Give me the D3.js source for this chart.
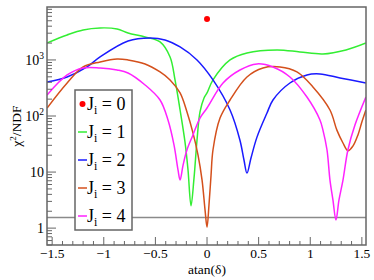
<!DOCTYPE html>
<html><head><meta charset="utf-8">
<script src="https://cdn.jsdelivr.net/npm/d3@7"></script>
<style>
html,body{margin:0;padding:0;background:#fff;}
svg{display:block;font-family:"Liberation Serif","Times New Roman",serif;}
</style></head>
<body><svg id="c" width="374" height="280"></svg>
<script>
// ---- data (atan(delta), chi2/NDF) ----
const seriesNames = ["J_i = 0","J_i = 1","J_i = 2","J_i = 3","J_i = 4"];
const seriesColors = ["#ff0000","#33ee33","#1a1aff","#d4501c","#ff22ff"];
const j0Points = [[0, 5400]];
const j1X = [-1.549,-1.355,-1.200,-1.036,-0.871,-0.765,-0.600,-0.455,-0.358,-0.310,-0.261,-0.213,-0.184,-0.155,-0.126,-0.097,-0.068,-0.029,0,0.058,0.223,0.387,0.678,0.900,1.123,1.346,1.539];
const j1Y = [2014,2795,3434,3724,3577,3034,2576,2096,1132,440,128,34,10.9,2.5,7.8,37,118,210,258,440,1000,1334,1510,1390,1280,1510,2014];
const j2X = [-1.549,-1.355,-1.162,-1.036,-0.765,-0.552,-0.407,-0.261,-0.097,0.058,0.223,0.319,0.358,0.387,0.426,0.484,0.581,0.639,0.803,0.968,1.094,1.288,1.539];
const j2Y = [405,497,750,1132,2183,2471,2276,1706,1000,440,128,37,16.4,9.6,17.8,42,113,193,388,540,562,478,388];
const j3X = [-1.549,-1.355,-1.200,-1.036,-0.871,-0.765,-0.600,-0.455,-0.358,-0.261,-0.194,-0.136,-0.087,-0.048,-0.019,0,0.019,0.039,0.058,0.126,0.223,0.387,0.542,0.707,0.871,1.026,1.191,1.258,1.317,1.365,1.413,1.462,1.500,1.539];
const j3Y = [139,388,750,920,1042,1000,849,611,440,258,118,50,20.1,7.2,2.1,1.04,2.58,8.8,25,92,193,497,719,750,611,330,128,56,33,24,29,46,78,128];
const j4X = [-1.549,-1.355,-1.200,-1.036,-0.871,-0.765,-0.600,-0.455,-0.378,-0.319,-0.281,-0.261,-0.232,-0.194,-0.136,-0.068,0,0.155,0.319,0.484,0.639,0.803,0.968,1.094,1.123,1.162,1.191,1.220,1.249,1.278,1.317,1.365,1.433,1.539];
const j4Y = [237,540,719,719,662,586,358,193,85,30,10.9,7.2,13.3,25,46,92,139,388,662,849,750,497,218,85,56,25,7.2,3.16,1.39,3.16,7.2,25,69,218];
const refLevel = 1.55;
const xTickValues = [-1.5,-1,-0.5,0,0.5,1,1.5];
const xTickLabels = ["\u22121.5","\u22121","\u22120.5","0","0.5","1","1.5"];
const yMajorValues = [1,10,100,1000];
const yMajorBase = ["1","10","10","10"];
const yMajorSup = ["","","2","3"];
const xTitle = "atan(\u03b4)";

// ---- layout ----
const L = 47, R = 366, T = 7, B = 245;
const x = d3.scaleLinear().domain([-1.55, 1.54]).range([L, R]);
const y = d3.scaleLog().domain([0.5, 8800]).range([B, T]);
const svg = d3.select("#c");
const axisCol = "#666";

svg.append("defs").append("clipPath").attr("id","clip")
  .append("rect").attr("x",L).attr("y",T).attr("width",R-L).attr("height",B-T);

// reference line
svg.append("line").attr("x1",L).attr("x2",R).attr("y1",y(refLevel)).attr("y2",y(refLevel))
  .attr("stroke","#8a8a8a").attr("stroke-width",1.6);

// curves
const line = d3.line().x(d=>x(d[0])).y(d=>y(d[1])).curve(d3.curveCatmullRom.alpha(0.5));
const curves = [[j1X,j1Y],[j2X,j2Y],[j3X,j3Y],[j4X,j4Y]];
const g = svg.append("g").attr("clip-path","url(#clip)");
curves.forEach((c,i)=>{
  const pts = c[0].map((v,k)=>[v,c[1][k]]);
  g.append("path").attr("d",line(pts)).attr("fill","none")
    .attr("stroke",seriesColors[i+1]).attr("stroke-width",1.5);
});
g.selectAll("circle.j0").data(j0Points).enter().append("circle")
  .attr("cx",d=>x(d[0])).attr("cy",d=>y(d[1])).attr("r",3).attr("fill",seriesColors[0]);

// frame
svg.append("rect").attr("x",L).attr("y",T).attr("width",R-L).attr("height",B-T)
  .attr("fill","none").attr("stroke",axisCol).attr("stroke-width",1.5);

// x ticks
const xMinor = d3.range(-15,16).map(k=>k/10);
svg.append("g").selectAll("line").data(xMinor).enter().append("line")
  .attr("x1",d=>x(d)).attr("x2",d=>x(d))
  .attr("y1",B).attr("y2",d=>B-(Math.abs(d*2-Math.round(d*2))<1e-6?8:4))
  .attr("stroke",axisCol).attr("stroke-width",1);
svg.append("g").selectAll("text").data(xTickValues).enter().append("text")
  .attr("x",d=>x(d)).attr("y",258).attr("text-anchor","middle")
  .attr("font-size",13.5).text((d,i)=>xTickLabels[i]);

// y ticks
const yMinor = [];
[-1,0,1,2,3].forEach(e=>{ for(let m=1;m<10;m++){ const v=m*Math.pow(10,e); if(v>=0.5 && v<=8800) yMinor.push({v:v,major:m===1}); } });
svg.append("g").selectAll("line").data(yMinor).enter().append("line")
  .attr("x1",L).attr("x2",d=>L+(d.major?9:5))
  .attr("y1",d=>y(d.v)).attr("y2",d=>y(d.v))
  .attr("stroke",axisCol).attr("stroke-width",1);
const yl = svg.append("g").selectAll("text").data(yMajorValues).enter().append("text")
  .attr("x",44).attr("y",d=>y(d)+5).attr("text-anchor","end").attr("font-size",14);
yl.each(function(d,i){
  const t=d3.select(this);
  t.append("tspan").text(yMajorBase[i]);
  if(yMajorSup[i]) t.append("tspan").attr("dy",-6).attr("font-size",9.5).text(yMajorSup[i]);
});

// axis titles
svg.append("text").attr("x",207).attr("y",274).attr("text-anchor","middle")
  .attr("font-size",13.5).text(xTitle);
const yt = svg.append("text").attr("transform","translate(21,126) rotate(-90)")
  .attr("text-anchor","middle").attr("font-size",13.5);
yt.append("tspan").text("\u03c7");
yt.append("tspan").attr("dy",-5).attr("font-size",9).text("2");
yt.append("tspan").attr("dy",5).text("/NDF");

// legend
const lg = svg.append("g");
lg.append("rect").attr("x",75).attr("y",90).attr("width",57).attr("height",140)
  .attr("fill","#fff").attr("stroke",axisCol).attr("stroke-width",1.5);
seriesNames.forEach((n,i)=>{
  const cy = 104 + i*28;
  if(i===0){
    lg.append("circle").attr("cx",82.5).attr("cy",cy).attr("r",3).attr("fill",seriesColors[0]);
  } else {
    lg.append("line").attr("x1",78).attr("x2",87).attr("y1",cy).attr("y2",cy)
      .attr("stroke",seriesColors[i]).attr("stroke-width",1.5);
  }
  const parts = n.split(" = ");
  const t = lg.append("text").attr("x",87).attr("y",cy+6).attr("font-size",18);
  t.append("tspan").text(parts[0].split("_")[0]);
  t.append("tspan").attr("dy",4).attr("font-size",12).text(parts[0].split("_")[1]);
  t.append("tspan").attr("dy",-4).text(" = "+parts[1]);
});
</script></body></html>
